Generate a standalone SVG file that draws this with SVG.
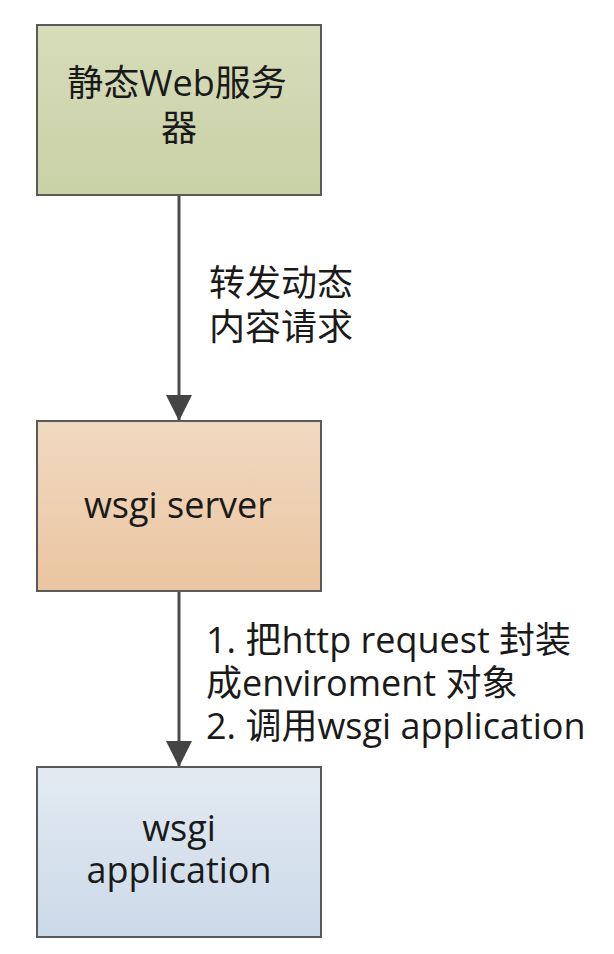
<svg xmlns="http://www.w3.org/2000/svg" width="614" height="954" viewBox="0 0 614 954">
<style>
.box{stroke:#5a5a5a;stroke-width:2}
text{font-family:"Open Sans","Noto Sans CJK SC",sans-serif;font-size:36px;fill:#1a1a1a}
.c{text-anchor:middle}
.edge{stroke:#4d4d4d;stroke-width:3;fill:none}
</style>
<defs>
<linearGradient id="g1" x1="0" y1="0" x2="0" y2="1"><stop offset="0" stop-color="#d7dcba"/><stop offset="1" stop-color="#c9d1a6"/></linearGradient>
<linearGradient id="g2" x1="0" y1="0" x2="0" y2="1"><stop offset="0" stop-color="#f1d9c0"/><stop offset="1" stop-color="#eac5a1"/></linearGradient>
<linearGradient id="g3" x1="0" y1="0" x2="0" y2="1"><stop offset="0" stop-color="#e3eaf2"/><stop offset="1" stop-color="#cbd9e8"/></linearGradient>
<marker id="arr" markerUnits="userSpaceOnUse" markerWidth="26" markerHeight="28" refX="25" refY="13" orient="auto" viewBox="0 0 26 26">
<path d="M0,0 L26,13 L0,26 Z" fill="#444"/>
</marker>
</defs>
<g id="connectors">
<line class="edge" x1="179" y1="196" x2="179" y2="420" marker-end="url(#arr)"/>
<text x="209" y="296">转发动态</text>
<text x="209" y="340">内容请求</text>
<line class="edge" x1="179" y1="592" x2="179" y2="766" marker-end="url(#arr)"/>
<text x="206" y="653">1. 把http request 封装</text>
<text x="206" y="696">成enviroment 对象</text>
<text x="206" y="739">2. 调用wsgi application</text>
</g>
<g id="static-web-server">
<rect class="box" x="37" y="25" width="284" height="170" fill="url(#g1)"/>
<text class="c" x="177" y="96">静态Web服务</text>
<text class="c" x="179" y="141">器</text>
</g>
<g id="wsgi-server">
<rect class="box" x="37" y="421" width="284" height="170" fill="url(#g2)"/>
<text class="c" x="178" y="518">wsgi server</text>
</g>
<g id="wsgi-application">
<rect class="box" x="37" y="767" width="284" height="170" fill="url(#g3)"/>
<text class="c" x="179" y="841">wsgi</text>
<text class="c" x="179" y="883">application</text>
</g>
</svg>
